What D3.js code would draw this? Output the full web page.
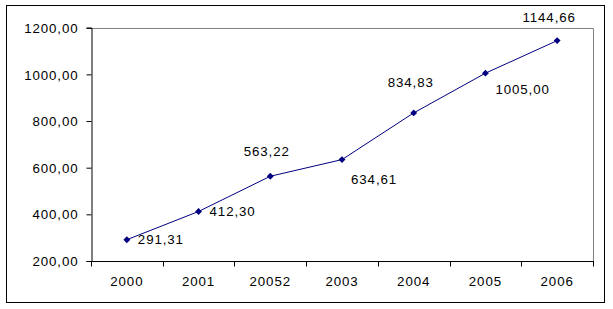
<!DOCTYPE html>
<html><head><meta charset="utf-8">
<script src="https://cdn.jsdelivr.net/npm/d3@7"></script>
<style>body{margin:0;background:#fff}svg{display:block}text{font-family:"Liberation Sans",Arial,sans-serif;font-size:13.3px;letter-spacing:0.9px;fill:#000}</style>
</head><body><svg id="c" width="613" height="309"></svg>
<script>
const categories = ["2000","2001","20052","2003","2004","2005","2006"];
const values = [291.31, 412.30, 563.22, 634.61, 834.83, 1005.00, 1144.66];
const valueLabels = ["291,31","412,30","563,22","634,61","834,83","1005,00","1144,66"];
const yTicks = [200,400,600,800,1000,1200];
const yTickLabels = ["200,00","400,00","600,00","800,00","1000,00","1200,00"];
// label placement (styling): [anchor, dx, dy]
const labelPos = [["start",11,4.5],["start",11,4.5],["middle",-3.5,-20],["start",9,24],["middle",-3,-26],["start",10,21],["middle",-8,-19]];

const svg = d3.select("#c");
const L=91, R=593, T=27.7, B=261;
const x = d3.scaleBand().domain(categories).range([L,R]).padding(0);
const y = d3.scaleLinear().domain([200,1200]).range([B,T]);

svg.append("rect").attr("x",6.5).attr("y",5.5).attr("width",598).attr("height",297).attr("fill","none").attr("stroke","#000");

// gray top/right plot frame
svg.append("path").attr("d",`M${L},${Math.round(T)+0.5}H${R+0.5}V${B}`).attr("fill","none").attr("stroke","#808080");

// y axis
const ya = svg.append("g").attr("transform",`translate(${L+0.5},0)`)
  .call(d3.axisLeft(y).tickValues(yTicks).tickSize(5).tickFormat((d,i)=>yTickLabels[i]));
ya.select(".domain").attr("stroke","#000");
ya.selectAll("line").attr("stroke","#000");
ya.selectAll("text").attr("x",-13).attr("dy","0.35em");

// x axis
const xa = svg.append("g").attr("transform",`translate(0,${B+0.5})`);
xa.append("line").attr("x1",L).attr("x2",R+1).attr("stroke","#000");
const bounds = categories.map(c=>x(c)).concat([x(categories[categories.length-1])+x.bandwidth()]);
xa.selectAll(".tk").data(bounds).join("line").attr("x1",d=>Math.round(d)+0.5).attr("x2",d=>Math.round(d)+0.5).attr("y1",0).attr("y2",5).attr("stroke","#000");
xa.selectAll(".lb").data(categories).join("text").attr("x",d=>x(d)+x.bandwidth()/2).attr("y",24).attr("text-anchor","middle").text(d=>d);

const pts = categories.map((c,i)=>[x(c)+x.bandwidth()/2, y(values[i])]);
svg.append("path").attr("d",d3.line()(pts)).attr("fill","none").attr("stroke","#000080").attr("stroke-width",1);
svg.selectAll(".pt").data(pts).join("path").attr("transform",d=>`translate(${d[0]},${d[1]})`)
  .attr("d",d3.symbol(d3.symbolDiamond2,30)).attr("fill","#000080");
svg.selectAll(".vl").data(pts).join("text").attr("x",(d,i)=>d[0]+labelPos[i][1]).attr("y",(d,i)=>d[1]+labelPos[i][2])
  .attr("text-anchor",(d,i)=>labelPos[i][0]).text((d,i)=>valueLabels[i]);
</script></body></html>
